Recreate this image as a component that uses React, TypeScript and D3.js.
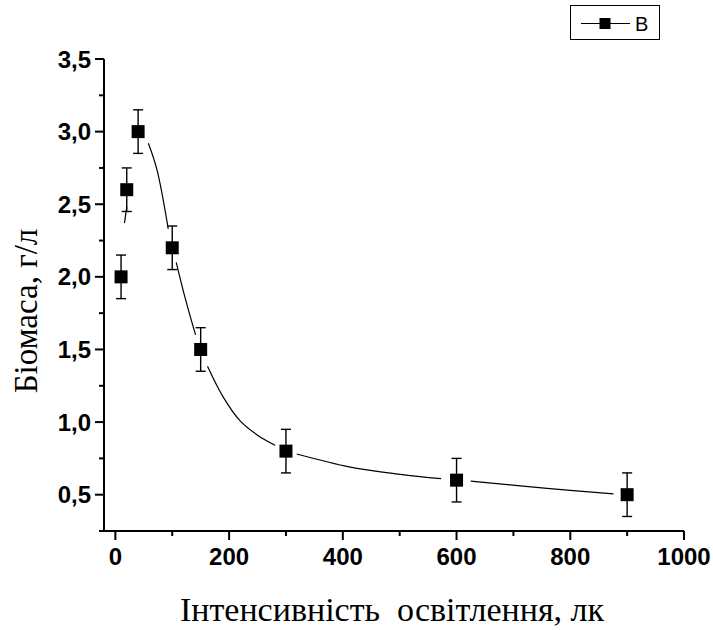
import * as d3 from 'd3';

// measured light intensity (lx) and biomass (g/l)
const intensity = [10, 20, 40, 100, 150, 300, 600, 900];
const biomass = [2.0, 2.6, 3.0, 2.2, 1.5, 0.8, 0.6, 0.5];
const errors = [0.15, 0.15, 0.15, 0.15, 0.15, 0.15, 0.15, 0.15];

// fitted curve (gaps around markers)
const fitSegments: [number, number][][] = [
  [[16, 2.37], [20, 2.48]],
  [[58, 2.92], [73, 2.74], [93, 2.33]],
  [[107, 2.1], [123, 1.85], [141, 1.6]],
  [[162, 1.385], [190, 1.17], [219, 1.01], [250, 0.91], [281, 0.84]],
  [[319, 0.78], [413, 0.69], [501, 0.64], [573, 0.61]],
  [[625, 0.594], [759, 0.544], [876, 0.505]],
];

const xTicks = [0, 200, 400, 600, 800, 1000];
const xMinorTicks = [100, 300, 500, 700, 900];
const yTicks = [0.5, 1.0, 1.5, 2.0, 2.5, 3.0, 3.5];
const yTickLabels = ['0,5', '1,0', '1,5', '2,0', '2,5', '3,0', '3,5'];
const yMinorTicks = [0.25, 0.75, 1.25, 1.75, 2.25, 2.75, 3.25];

const W = 713;
const H = 630;

export default function App() {
  const x = d3.scaleLinear().domain([-20, 1000]).range([104, 684]);
  const y = d3.scaleLinear().domain([0.25, 3.5]).range([531, 59]);

  const line = d3
    .line<[number, number]>()
    .x(d => x(d[0]))
    .y(d => y(d[1]))
    .curve(d3.curveCatmullRom);

  const tickFont = '"Liberation Sans", Arial, sans-serif';
  const titleFont = '"Liberation Serif", "Times New Roman", serif';

  return (
    <svg
      width={W}
      height={H}
      style={{ position: 'absolute', left: 0, top: 0, background: '#fff' }}
    >
      {/* axes */}
      <line x1={104} x2={104} y1={y(3.5)} y2={531} stroke="#000" strokeWidth={2} />
      <line x1={103} x2={684} y1={531} y2={531} stroke="#000" strokeWidth={2} />

      {xTicks.map((t, i) => (
        <g key={'xt' + i}>
          <line x1={x(t)} x2={x(t)} y1={531} y2={540} stroke="#000" strokeWidth={2} />
          <text
            x={x(t)}
            y={565}
            textAnchor="middle"
            fontFamily={tickFont}
            fontWeight="bold"
            fontSize={24}
          >
            {t}
          </text>
        </g>
      ))}
      {xMinorTicks.map((t, i) => (
        <line key={'xm' + i} x1={x(t)} x2={x(t)} y1={531} y2={536} stroke="#000" strokeWidth={2} />
      ))}

      {yTicks.map((t, i) => (
        <g key={'yt' + i}>
          <line x1={95} x2={104} y1={y(t)} y2={y(t)} stroke="#000" strokeWidth={2} />
          <text
            x={91}
            y={y(t) + 8.5}
            textAnchor="end"
            fontFamily={tickFont}
            fontWeight="bold"
            fontSize={24}
          >
            {yTickLabels[i]}
          </text>
        </g>
      ))}
      {yMinorTicks.map((t, i) => (
        <line key={'ym' + i} x1={99} x2={104} y1={y(t)} y2={y(t)} stroke="#000" strokeWidth={2} />
      ))}

      {/* fitted curve */}
      {fitSegments.map((seg, i) => (
        <path key={'fit' + i} d={line(seg) || ''} fill="none" stroke="#000" strokeWidth={1.2} />
      ))}

      {/* error bars */}
      {intensity.map((v, i) => {
        const cx = x(v);
        const top = y(biomass[i] + errors[i]);
        const bot = y(biomass[i] - errors[i]);
        return (
          <g key={'err' + i} stroke="#000" strokeWidth={1.4}>
            <line x1={cx} x2={cx} y1={top} y2={bot} />
            <line x1={cx - 5} x2={cx + 5} y1={top} y2={top} />
            <line x1={cx - 5} x2={cx + 5} y1={bot} y2={bot} />
          </g>
        );
      })}

      {/* markers */}
      {intensity.map((v, i) => (
        <rect
          key={'pt' + i}
          x={x(v) - 6.5}
          y={y(biomass[i]) - 6.5}
          width={13}
          height={13}
          fill="#000"
        />
      ))}

      {/* legend */}
      <rect x={570.5} y={5.5} width={89} height={34} fill="#fff" stroke="#000" strokeWidth={1} />
      <line x1={581} x2={630} y1={23.5} y2={23.5} stroke="#000" strokeWidth={1.2} />
      <rect x={599.5} y={18} width={11} height={11} fill="#000" />
      <text x={635} y={31} fontFamily={tickFont} fontSize={20}>
        B
      </text>

      {/* axis titles */}
      <text
        x={392}
        y={621}
        textAnchor="middle"
        fontFamily={titleFont}
        fontSize={34}
        style={{ whiteSpace: 'pre' }}
      >
        {'Інтенсивність  освітлення, лк'}
      </text>
      <text
        transform="translate(37,311) rotate(-90)"
        textAnchor="middle"
        fontFamily={titleFont}
        fontSize={33}
      >
        Біомаса, г/л
      </text>
    </svg>
  );
}
